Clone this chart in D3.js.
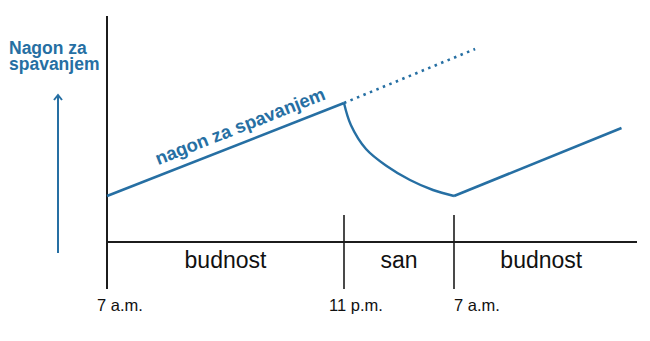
<!DOCTYPE html>
<html>
<head>
<meta charset="utf-8">
<script src="https://cdn.jsdelivr.net/npm/d3@7"></script>
<style>
  body { margin: 0; background: #fff; }
  text { font-family: "Liberation Sans", Arial, sans-serif; }
</style>
</head>
<body>
<svg id="chart" width="650" height="341"></svg>
<script>
  // hours since the first 7 a.m., and sleep drive (arbitrary units)
  var wakeLine  = [ [0, 46], [16, 139] ];
  var sleepDrop = [ [16, 139], [16.5, 117], [17.6, 93], [19.1, 76], [20.8, 62], [22.47, 52], [24, 46] ];
  var wakeLine2 = [ [24, 46], [35.9, 114] ];
  var noSleep   = [ [16, 139], [25.5, 193] ];

  var tickHours  = [0, 16, 24];
  var tickLabels = ["7 a.m.", "11 p.m.", "7 a.m."];

  var periods      = [ [0, 16], [16, 24], [24, 36.4] ];
  var periodLabels = ["budnost", "san", "budnost"];

  var yTitle    = ["Nagon za", "spavanjem"];
  var lineLabel = "nagon za spavanjem";

  var blue = "#266fa3";
  var dark = "#1c1c1c";

  var svg = d3.select("#chart");

  // hand drawn time axis: the night is a bit narrower than the day
  var x = d3.scaleLinear()
    .domain([0, 16, 24, 37])
    .range([107, 344, 454, 637]);

  var y = d3.scaleLinear()
    .domain([0, 200])
    .range([242, 42]);

  // axes
  svg.append("line")
    .attr("x1", x(0)).attr("x2", x(0))
    .attr("y1", 16).attr("y2", 289)
    .attr("stroke", dark).attr("stroke-width", 2);

  svg.append("line")
    .attr("x1", x(0)).attr("x2", x(37))
    .attr("y1", y(0)).attr("y2", y(0))
    .attr("stroke", dark).attr("stroke-width", 2);

  svg.selectAll(".tick")
    .data(tickHours.slice(1))
    .enter().append("line")
    .attr("x1", function (d) { return x(d) })
    .attr("x2", function (d) { return x(d) })
    .attr("y1", 215).attr("y2", 289)
    .attr("stroke", dark).attr("stroke-width", 1.6);

  var labelShift = [-10, -15, 0];
  svg.selectAll(".tlabel")
    .data(tickHours)
    .enter().append("text")
    .attr("x", function (d, i) { return x(d) + labelShift[i] })
    .attr("y", 311)
    .attr("font-size", 16.5)
    .attr("fill", "#111")
    .text(function (d, i) { return tickLabels[i] });

  svg.selectAll(".plabel")
    .data(periods)
    .enter().append("text")
    .attr("x", function (d) { return (x(d[0]) + x(d[1])) / 2 })
    .attr("y", 268)
    .attr("text-anchor", "middle")
    .attr("font-size", 23)
    .attr("fill", "#111")
    .text(function (d, i) { return periodLabels[i] });

  // sleep drive curve
  var line = d3.line()
    .x(function (d) { return x(d[0]) })
    .y(function (d) { return y(d[1]) });

  var curve = d3.line()
    .x(function (d) { return x(d[0]) })
    .y(function (d) { return y(d[1]) })
    .curve(d3.curveCatmullRom.alpha(0.5));

  svg.append("path")
    .attr("d", line(wakeLine))
    .attr("fill", "none").attr("stroke", blue).attr("stroke-width", 2.6);

  svg.append("path")
    .attr("d", curve(sleepDrop))
    .attr("fill", "none").attr("stroke", blue).attr("stroke-width", 2.4);

  svg.append("path")
    .attr("d", line(wakeLine2))
    .attr("fill", "none").attr("stroke", blue).attr("stroke-width", 2.6);

  svg.append("path")
    .attr("d", line(noSleep))
    .attr("fill", "none").attr("stroke", blue).attr("stroke-width", 2.6)
    .attr("stroke-dasharray", "2.5,4.5");

  // label along the rising line
  var a0 = wakeLine[0], a1 = wakeLine[1];
  var angle = Math.atan2(y(a1[1]) - y(a0[1]), x(a1[0]) - x(a0[0])) * 180 / Math.PI;
  var tStart = 3.7;
  var vStart = a0[1] + (a1[1] - a0[1]) * tStart / (a1[0] - a0[0]);
  svg.append("text")
    .attr("transform", "translate(" + x(tStart) + "," + y(vStart) + ") rotate(" + angle + ")")
    .attr("dy", -10)
    .attr("font-size", 18.5)
    .attr("font-weight", "bold")
    .attr("fill", blue)
    .text(lineLabel);

  // y title and arrow
  svg.selectAll(".ytitle")
    .data(yTitle)
    .enter().append("text")
    .attr("x", 9)
    .attr("y", function (d, i) { return 54 + i * 16 })
    .attr("font-size", 17.5)
    .attr("font-weight", "bold")
    .attr("fill", blue)
    .text(function (d) { return d });

  svg.append("line")
    .attr("x1", 58).attr("x2", 58)
    .attr("y1", 253).attr("y2", 96)
    .attr("stroke", blue).attr("stroke-width", 2);

  svg.append("path")
    .attr("d", "M54,100L58,95L62,100")
    .attr("fill", "none").attr("stroke", blue).attr("stroke-width", 2);
</script>
</body>
</html>
